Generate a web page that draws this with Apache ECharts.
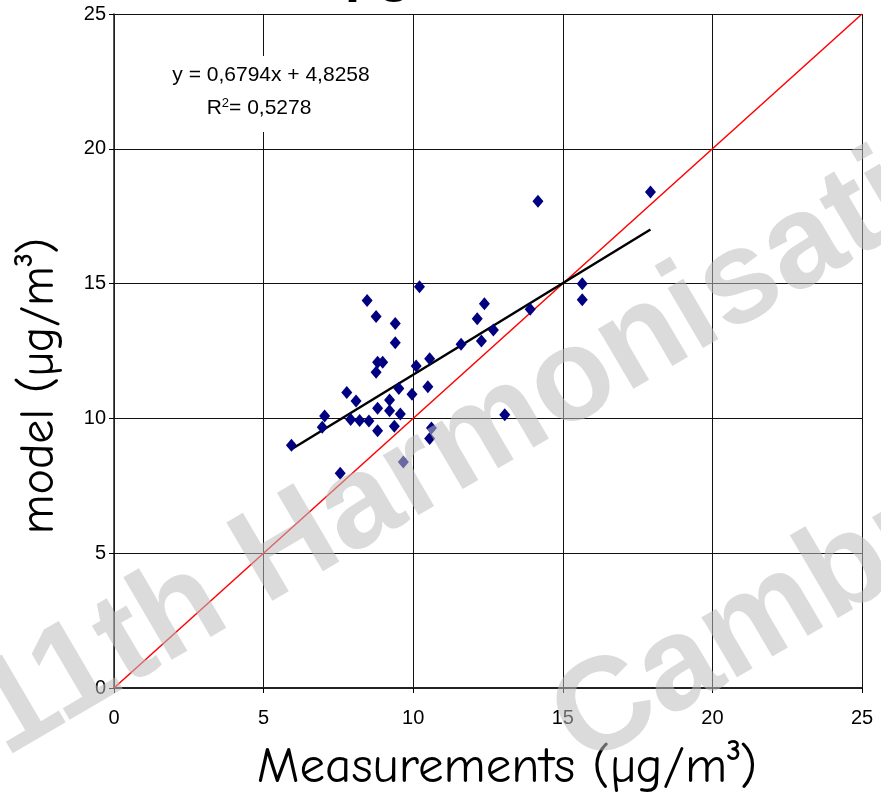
<!DOCTYPE html>
<html>
<head>
<meta charset="utf-8">
<script src="https://cdn.jsdelivr.net/npm/echarts@6/dist/echarts.min.js"></script>
<style>
html,body{margin:0;padding:0;background:#fff;}
#chart{width:881px;height:795px;}
</style>
</head>
<body>
<div id="chart"></div>
<script>
// ---- data ----
var measurements = [5.93, 6.96, 7.04, 7.56, 7.78, 7.91, 8.09, 8.21, 8.46, 8.52, 8.76, 8.76, 8.81, 8.81, 8.81, 8.98, 9.21, 9.21, 9.37, 9.40, 9.40, 9.52, 9.57, 9.67, 9.96, 10.10, 10.21, 10.49, 10.55, 10.55, 10.61, 11.60, 12.14, 12.28, 12.38, 12.68, 13.06, 13.91, 14.17, 15.65, 15.65, 17.93];
var model =        [9.00, 9.67, 10.09, 7.97, 10.96, 9.96, 10.65, 9.92, 14.37, 9.90, 13.78, 11.71, 12.08, 10.38, 9.54, 12.08, 10.68, 10.28, 9.71, 13.52, 12.81, 11.11, 10.16, 8.38, 10.90, 11.94, 14.88, 11.17, 12.21, 9.25, 9.64, 12.75, 13.70, 12.87, 14.25, 13.28, 10.14, 14.05, 18.05, 14.99, 14.40, 18.40];
var trendSlope = 0.6794;
var trendIntercept = 4.8258;
var trendEquation = 'y = 0,6794x + 4,8258';
var trendR2 = '{r|R}{sup|2}{r|= 0,5278}';
var identityRange = [0, 25];
var xTitle = 'Measurements (µg/m³)';
var yTitle = 'model (µg/m³)';
var watermark1 = '11th Harmonisation';
var watermark2 = 'Cambridge';

var points = measurements.map(function (x, i) { return [x, model[i]]; });
var xMin = Math.min.apply(null, measurements), xMax = Math.max.apply(null, measurements);
var trend = [[xMin, trendSlope * xMin + trendIntercept], [xMax, trendSlope * xMax + trendIntercept]];
var identity = identityRange.map(function (v) { return [v, v]; });

var chart = echarts.init(document.getElementById('chart'));
var sans = '"Liberation Sans", Arial, sans-serif';
var tickFont = {fontFamily: sans, fontSize: 20, color: '#000'};
var titleFont = '"Comic Sans MS", "Comic Neue", "Noto Sans", sans-serif';
var ang = 30.4 * Math.PI / 180;
var wmFont = 'bold 132px ' + sans;
var wmFill = 'rgba(190,190,190,0.55)';

chart.setOption({
  animation: false,
  backgroundColor: '#fff',
  grid: {left: 114, right: 19, top: 14, bottom: 107, containLabel: false, outerBoundsMode: 'none'},
  xAxis: {
    type: 'value', min: 0, max: 25, interval: 5,
    axisLine: {show: true, onZero: false, lineStyle: {color: '#222', width: 2}},
    axisTick: {show: true, inside: false, length: 5, lineStyle: {color: '#000'}},
    axisLabel: Object.assign({margin: 20}, tickFont),
    splitLine: {show: true, lineStyle: {color: '#111', width: 1}},
    name: xTitle, nameLocation: 'middle', nameGap: 54,
    nameTextStyle: {fontFamily: titleFont, fontSize: 51, color: '#000', padding: [0, 0, 0, 38]}
  },
  yAxis: {
    type: 'value', min: 0, max: 25, interval: 5,
    axisLine: {show: true, onZero: false, lineStyle: {color: '#222', width: 1.5}},
    axisTick: {show: true, inside: false, length: 5, lineStyle: {color: '#000'}},
    axisLabel: Object.assign({margin: 8}, tickFont),
    splitLine: {show: true, lineStyle: {color: '#111', width: 1}},
    name: yTitle, nameLocation: 'middle', nameGap: 51, nameRotate: 90,
    nameTextStyle: {fontFamily: titleFont, fontSize: 48, color: '#000', padding: [0, 70, 0, 0]}
  },
  series: [
    {
      type: 'line', data: identity, showSymbol: false, symbol: 'none',
      lineStyle: {color: '#ff0000', width: 1.5}, z: 3, silent: true
    },
    {
      type: 'line', data: trend, showSymbol: false, symbol: 'none',
      lineStyle: {color: '#000', width: 2.5}, z: 4, silent: true
    },
    {
      type: 'scatter', data: points, symbol: 'diamond', symbolSize: [11, 13],
      itemStyle: {color: '#000080', opacity: 1}, z: 5
    }
  ],
  graphic: {
    elements: [
      {
        type: 'rect', shape: {x: 165, y: 56, width: 212, height: 76}, z: 40, silent: true,
        style: {fill: '#fff'}
      },
      {
        type: 'text', x: 271, y: 75, z: 50,
        style: {text: trendEquation, font: '21px ' + sans, fill: '#000', align: 'center', verticalAlign: 'middle'}
      },
      {
        type: 'text', x: 259, y: 108, z: 50,
        style: {
          text: trendR2, fill: '#000', align: 'center', verticalAlign: 'middle',
          rich: {
            r: {fontSize: 21, fontFamily: sans, color: '#000'},
            sup: {fontSize: 13, fontFamily: sans, color: '#000', verticalAlign: 'top', padding: [0, 0, 9, 0]}
          }
        }
      },
      {
        type: 'text', x: 345, y: 3, z: 50,
        style: {text: 'µg', font: 'bold 56px ' + sans, fill: '#000', align: 'left', verticalAlign: 'bottom'}
      },
      {
        type: 'text', x: -13, y: 726, rotation: ang, z: 100, silent: true,
        style: {text: watermark1, font: wmFont, fill: wmFill, align: 'left', verticalAlign: 'middle'}
      },
      {
        type: 'text', x: 565, y: 736, rotation: ang, z: 100, silent: true,
        style: {text: watermark2, font: wmFont, fill: wmFill, align: 'left', verticalAlign: 'middle'}
      }
    ]
  }
});
</script>
</body>
</html>
